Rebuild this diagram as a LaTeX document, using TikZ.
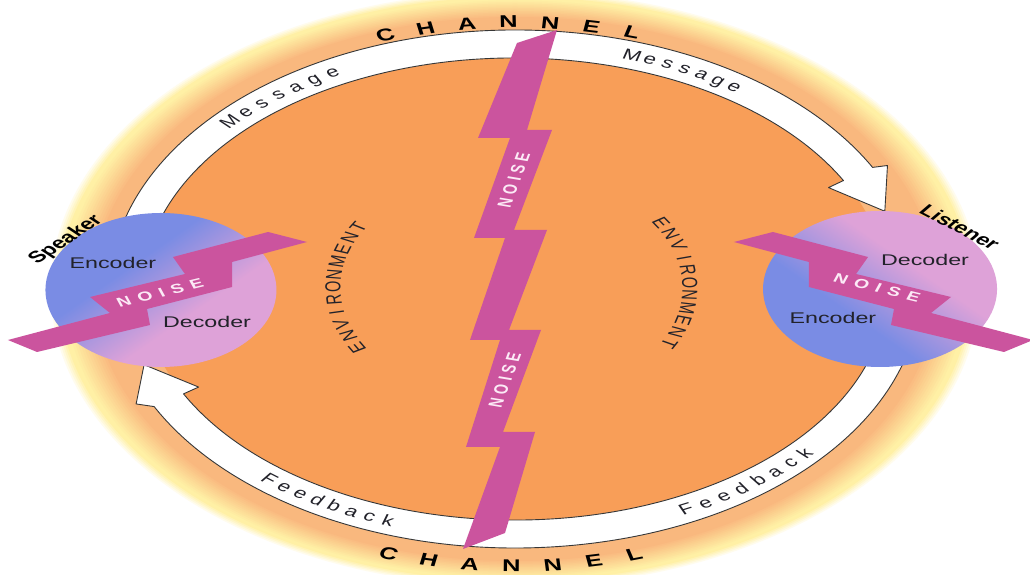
\documentclass[tikz,border=0pt]{standalone}
\usepackage{fontspec}
\setmainfont{Liberation Sans}
\usetikzlibrary{calc}
\definecolor{coreorange}{RGB}{248,158,88}
\definecolor{peach}{RGB}{249,184,126}
\definecolor{glowyellow}{RGB}{255,240,165}
\definecolor{boltpink}{RGB}{203,84,158}
\definecolor{bluec}{RGB}{122,140,228}
\definecolor{pinkc}{RGB}{222,162,216}
\definecolor{ink}{RGB}{34,34,42}
\definecolor{bandline}{RGB}{55,55,55}
\definecolor{bolttext}{RGB}{252,234,246}
\pgfdeclareverticalshading{spkshade}{100bp}{color(0bp)=(pinkc); color(40bp)=(pinkc); color(60bp)=(bluec); color(100bp)=(bluec)}
\pgfdeclareverticalshading{lisshade}{100bp}{color(0bp)=(bluec); color(40bp)=(bluec); color(60bp)=(pinkc); color(100bp)=(pinkc)}
\begin{document}
\begin{tikzpicture}[x=1pt, y=1pt, xscale=1.5,
  every node/.append style={transform shape},
  chan/.style={font=\fontsize{17}{20}\selectfont\bfseries, text=black, inner sep=0pt},
  msg/.style={font=\fontsize{15}{17}\selectfont, text=ink, inner sep=0pt, anchor=base},
  env/.style={font=\fontsize{14.5}{17}\selectfont, text=ink, inner sep=0pt},
  role/.style={font=\fontsize{15.5}{18}\selectfont, text=ink, inner sep=0pt},
  who/.style={font=\fontsize{16}{19}\selectfont\bfseries, text=black, inner sep=0pt},
  noisetxt/.style={font=\fontsize{13}{15}\selectfont\bfseries, text=bolttext, inner sep=0pt},
  bolt/.style={fill=boltpink},
  band/.style={draw=bandline, line width=0.9pt, fill=white, line join=round}]
\useasboundingbox (0,0) rectangle (686.67,575);
\fill[white] (0,0) rectangle (686.67,575);
% glow
\foreach \i in {0,...,5} {
  \pgfmathsetmacro\gx{311-1.4*\i}
  \pgfmathsetmacro\gy{299-1.4*\i}
  \pgfmathtruncatemacro\gm{\i*20}
  \fill[glowyellow!\gm!white] (343.33,286) ellipse [x radius=\gx, y radius=\gy];
}
\foreach \i in {0,...,12} {
  \pgfmathsetmacro\gx{302-1.75*\i}
  \pgfmathsetmacro\gy{290-1.5*\i}
  \pgfmathtruncatemacro\gm{\i*100/12}
  \fill[peach!\gm!glowyellow] (343.33,286) ellipse [x radius=\gx, y radius=\gy];
}
% core
\fill[coreorange] (343.33,286) ellipse [x radius=248, y radius=231];
% channel arrows
\begin{scope}[shift={(343.33,286)}]
\draw[band] (190:270 and 259) arc[start angle=190, end angle=28, x radius=270, y radius=259]
  -- (27:278.7 and 272) -- (18.5:260 and 245) -- (28:236.7 and 216) -- (28:248 and 231)
  arc[start angle=28, end angle=190, x radius=248, y radius=231] -- cycle;
\draw[band] (10:270 and 259) arc[start angle=10, end angle=-153, x radius=270, y radius=259]
  -- (205:278.7 and 272) -- (198:260 and 245) -- (207:236.7 and 216) -- (207:248 and 231)
  arc[start angle=207, end angle=370, x radius=248, y radius=231] -- cycle;
% Message / Feedback
\foreach \ch [count=\idx from 0] in {M,e,s,s,a,g,e} {
  \pgfmathsetmacro\ang{137-3.17*\idx}
  \pgfmathsetmacro\rot{atan2(-240*cos(\ang),255*sin(\ang))}
  \node[msg, rotate=\rot] (msgL\idx) at (\ang:255 and 240) {\ch};
}
\foreach \ch [count=\idx from 0] in {M,e,s,s,a,g,e} {
  \pgfmathsetmacro\ang{72.5-2.8*\idx}
  \pgfmathsetmacro\rot{atan2(-240*cos(\ang),255*sin(\ang))}
  \node[msg, rotate=\rot] (msgR\idx) at (\ang:255 and 240) {\ch};
}
\foreach \ch [count=\idx from 0] in {F,e,e,d,b,a,c,k} {
  \pgfmathsetmacro\ang{231+2.86*\idx}
  \pgfmathsetmacro\rot{atan2(250*cos(\ang),-265*sin(\ang))}
  \node[msg, rotate=\rot] (fbL\idx) at (\ang:265 and 250) {\ch};
}
\foreach \ch [count=\idx from 0] in {F,e,e,d,b,a,c,k} {
  \pgfmathsetmacro\ang{296+3.14*\idx}
  \pgfmathsetmacro\rot{atan2(250*cos(\ang),-265*sin(\ang))}
  \node[msg, rotate=\rot] (fbR\idx) at (\ang:265 and 250) {\ch};
}
% CHANNEL
\foreach \ch [count=\idx from 0] in {C,H,A,N,N,E,L} {
  \pgfmathsetmacro\ang{108-5.7*\idx}
  \pgfmathsetmacro\rot{atan2(-267*cos(\ang),280*sin(\ang))}
  \node[chan, rotate=\rot] (chT\idx) at (\ang:280 and 267) {\ch};
}
\foreach \ch [count=\idx from 0] in {C,H,A,N,N,E,L} {
  \pgfmathsetmacro\ang{252.7+5.6*\idx}
  \pgfmathsetmacro\rot{atan2(277*cos(\ang),-283*sin(\ang))}
  \node[chan, rotate=\rot] (chB\idx) at (\ang:283 and 277) {\ch};
}
\end{scope}
% main noise bolt
\fill[bolt] (371.33,545) -- (351.33,445) -- (368,445) -- (342.67,345) -- (364.67,345)
  -- (339.33,245) -- (360.67,245) -- (335.33,143) -- (356.67,143) -- (336.67,42)
  -- (308.67,26) -- (333.33,128) -- (310.67,128) -- (333.33,235) -- (313.33,235)
  -- (336.67,337) -- (316,337) -- (340,437) -- (318.67,437) -- (344.67,532) -- cycle;
\node[noisetxt, rotate=76] (noiseUp) at (342.5,395) {N\hspace{4pt}O\hspace{4pt}I\hspace{4pt}S\hspace{4pt}E};
\node[noisetxt, rotate=76] (noiseDn) at (336.5,195) {N\hspace{4pt}O\hspace{4pt}I\hspace{4pt}S\hspace{4pt}E};
% ENVIRONMENT
\foreach \ch [count=\idx from 0] in {E,N,V,I,R,O,N,M,E,N,T} {
  \pgfmathsetmacro\ang{210-6.1*\idx}
  \pgfmathsetmacro\rot{\ang-90}
  \node[env, rotate=\rot] (envL\idx) at ($(341,287)+(\ang:119)$) {\ch};
}
\foreach \ch [count=\idx from 0] in {E,N,V,I,R,O,N,M,E,N,T} {
  \pgfmathsetmacro\ang{33-6.1*\idx}
  \pgfmathsetmacro\rot{\ang-90}
  \node[env, rotate=\rot] (envR\idx) at ($(341,287)+(\ang:119)$) {\ch};
}
% speaker
\shade[shading=spkshade, shading angle=35] (107.3,285) circle[radius=77];
\fill[bolt] (5.3,235) -- (73.3,262) -- (60,278) -- (123.3,301) -- (115.3,318) -- (178.7,343)
  -- (204.7,333) -- (154.7,313) -- (154.7,288) -- (98,266) -- (100,250) -- (24.7,223) -- cycle;
\node[role] (spkEnc) at (75.3,312) {Encoder};
\node[role] (spkDec) at (138,253) {Decoder};
\node[noisetxt, rotate=20] (spkNoise) at (106.7,282) {N\hspace{5pt}O\hspace{5pt}I\hspace{5pt}S\hspace{5pt}E};
\node[who, rotate=45] (speaker) at (44,335) {Speaker};
% listener
\shade[shading=lisshade, shading angle=-35] (586.7,286) circle[radius=78];
\fill[bolt] (688.7,235) -- (620.7,262) -- (634,278) -- (570.7,301) -- (578.7,318) -- (515.3,343)
  -- (489.3,333) -- (539.3,313) -- (539.3,288) -- (596,266) -- (594,250) -- (669.3,223) -- cycle;
\node[role] (lisDec) at (616.7,315) {Decoder};
\node[role] (lisEnc) at (555.3,257) {Encoder};
\node[noisetxt, rotate=-20] (lisNoise) at (584.7,287) {N\hspace{5pt}O\hspace{5pt}I\hspace{5pt}S\hspace{5pt}E};
\node[who, rotate=-38] (listener) at (640,348) {Listener};
\end{tikzpicture}
\end{document}
